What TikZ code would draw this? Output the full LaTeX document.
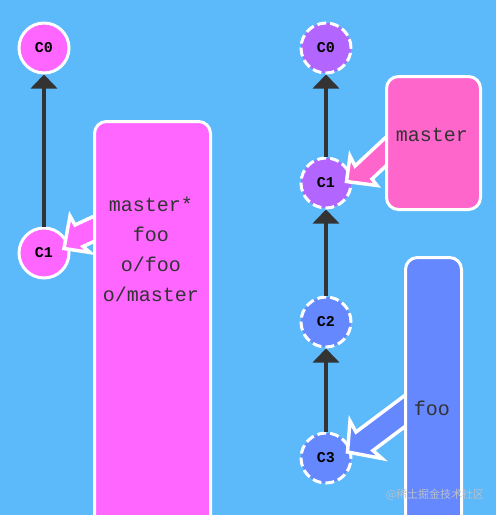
\documentclass[tikz,border=0pt]{standalone}
\usepackage{fontspec}
\setmonofont{Liberation Mono}
\newfontfamily\cjkfont{Noto Sans CJK SC}
\usetikzlibrary{arrows.meta,calc}
\definecolor{bgblue}{HTML}{5CB9FA}
\definecolor{magentac}{HTML}{FF66FF}
\definecolor{hotpink}{HTML}{FF66CC}
\definecolor{purplec}{HTML}{B266FF}
\definecolor{bluec}{HTML}{6688FF}
\definecolor{darkc}{HTML}{333333}
\definecolor{wmark}{HTML}{B8C0CC}
\begin{document}
\begin{tikzpicture}[x=1pt,y=-1pt,
  commit/.style={circle, draw=white, line width=3pt, minimum size=50pt, inner sep=0pt,
    font=\ttfamily\bfseries\fontsize{15}{15}\selectfont, text=black},
  dashedcommit/.style={commit, dash pattern=on 9pt off 4pt},
  branchbox/.style={draw=white, line width=3pt, rounded corners=12pt, anchor=north west, inner sep=0pt},
  branchtext/.style={font=\ttfamily\fontsize{20}{30}\selectfont, text=darkc, align=center},
  fatarrow/.style={draw=white, line width=3.5pt, line join=miter},
  parentlink/.style={draw=darkc, line width=3.5pt, -{Triangle[width=26pt,length=14pt]}}]
\useasboundingbox (0,0) rectangle (496,515);
\clip (0,0) rectangle (496,515);
\fill[bgblue] (0,0) rectangle (496,515);

% left graph
\node[commit, fill=magentac] (lc0) at (44,48) {C0};
\node[commit, fill=magentac] (lc1) at (44,253) {C1};
\draw[parentlink] (lc1.north) -- (lc0.south);

% right graph
\node[dashedcommit, fill=purplec] (rc0) at (326,48) {C0};
\node[dashedcommit, fill=purplec] (rc1) at (326,183) {C1};
\node[dashedcommit, fill=bluec] (rc2) at (326,322) {C2};
\node[dashedcommit, fill=bluec] (rc3) at (326,458) {C3};
\draw[parentlink] (rc1.north) -- (rc0.south);
\draw[parentlink] (rc2.north) -- (rc1.south);
\draw[parentlink] (rc3.north) -- (rc2.south);

% fat branch arrows (box -> commit)
\draw[fatarrow, fill=magentac, shift={(lc1.center)}]
  (20,-4.5) -- (26,-37) -- (31,-28) -- (80,-50.9) -- (80,-25.6) -- (39,-6.5) -- (46,-0.5) -- cycle;
\draw[fatarrow, fill=hotpink, shift={(rc1.center)}]
  (20.5,-1.5) -- (24,-27) -- (29,-17) -- (75,-59.9) -- (75,-31.1) -- (46,-4) -- (51,2.5) -- cycle;
\draw[fatarrow, fill=bluec, shift={(rc3.center)}]
  (21.5,-6) -- (24,-37) -- (30,-26) -- (95,-74.75) -- (95,-43.5) -- (47,-7.5) -- (56,0.5) -- cycle;

% branch boxes
\node[branchbox, fill=magentac, minimum width=116pt, minimum height=420pt] (lbox) at (93,120) {};
\node[branchtext] (ltext) at (151,249) {master*\\foo\\o/foo\\o/master};

\node[branchbox, fill=hotpink, minimum width=94pt, minimum height=133pt] (mbox) at (385,75) {};
\node[branchtext] (mtext) at (432,135) {master};

\node[branchbox, fill=bluec, minimum width=56pt, minimum height=300pt] (fbox) at (404,256) {};
\node[branchtext] (ftext) at (432,408) {foo};

% watermark
\node[text=wmark, font=\cjkfont\fontsize{11}{11}\selectfont] (wm) at (435,495) {@稀土掘金技术社区};
\end{tikzpicture}
\end{document}
